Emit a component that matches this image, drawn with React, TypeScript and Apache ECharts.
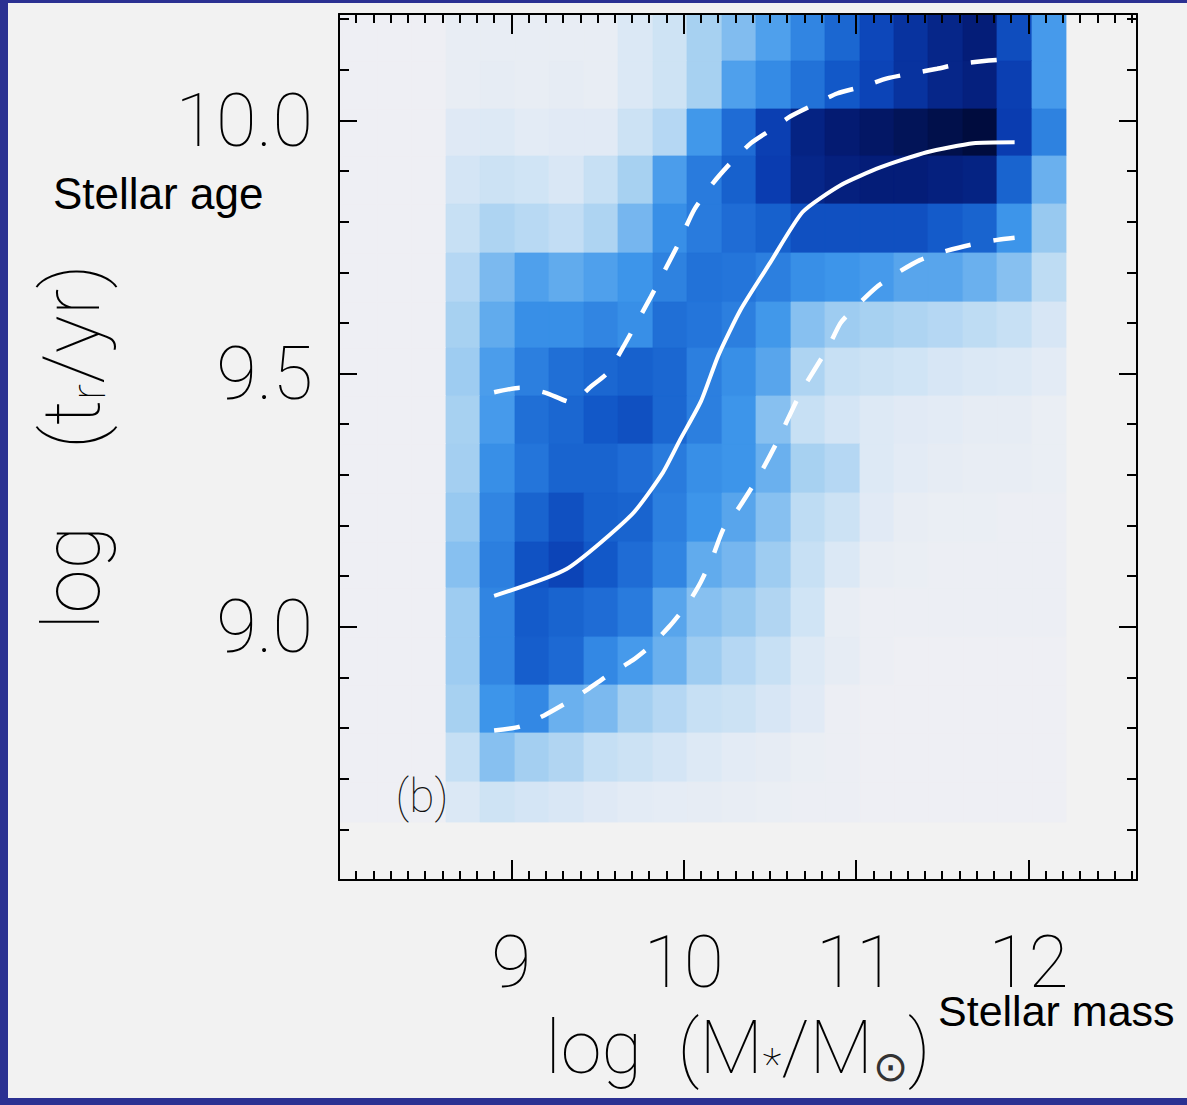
import React, { useEffect, useRef } from 'react';
import * as echarts from 'echarts';

// ---------- axis ranges ----------
const X_MIN = 8.0;
const X_MAX = 12.63;
const Y_MIN = 8.5;
const Y_MAX = 10.21;

// ---------- heat-map bins ----------
// bin centres in log(M*/Msun), bin width 0.2
const xBinCenters = [7.92, 8.12, 8.32, 8.52, 8.72, 8.92, 9.12, 9.32, 9.52, 9.72, 9.92, 10.12, 10.32, 10.52, 10.72, 10.92, 11.12, 11.32, 11.52, 11.72, 11.92, 12.12];
const xBinWidth = 0.2;
// bin edges in log(t_r/yr), bottom to top
const yBinEdges = [8.615, 8.694, 8.791, 8.885, 8.98, 9.077, 9.168, 9.265, 9.36, 9.455, 9.551, 9.642, 9.739, 9.834, 9.929, 10.022, 10.117, 10.211];

// relative density (0-100), rows listed from the TOP row down to the bottom row
const densityRows = [
  [0, 0, 0, 0, 3, 3, 3, 3, 3, 10, 16, 29, 36, 46, 55, 65, 76, 83, 87, 90, 74, 48],
  [0, 0, 0, 0, 3, 4, 3, 4, 3, 10, 16, 29, 46, 53, 61, 70, 77, 83, 87, 89, 79, 48],
  [0, 0, 0, 0, 8, 9, 6, 7, 7, 17, 25, 49, 63, 79, 88, 91, 93, 95, 97, 99, 80, 56],
  [0, 0, 0, 0, 13, 17, 15, 11, 19, 29, 47, 58, 67, 80, 87, 89, 90, 90, 89, 88, 66, 40],
  [0, 0, 0, 0, 19, 27, 24, 21, 27, 38, 52, 58, 63, 67, 73, 73, 73, 73, 69, 66, 50, 32],
  [0, 0, 0, 0, 25, 37, 46, 42, 46, 50, 56, 61, 60, 57, 52, 50, 48, 44, 44, 40, 35, 22],
  [0, 0, 0, 0, 29, 42, 52, 52, 55, 52, 62, 60, 57, 49, 35, 31, 29, 27, 25, 22, 19, 12],
  [0, 0, 0, 0, 31, 47, 57, 62, 65, 67, 65, 57, 52, 44, 27, 19, 17, 15, 12, 10, 9, 6],
  [0, 0, 0, 0, 29, 48, 62, 65, 70, 73, 65, 57, 50, 35, 19, 13, 9, 7, 6, 4, 4, 2],
  [0, 0, 0, 0, 30, 52, 60, 66, 66, 63, 58, 52, 50, 40, 29, 25, 9, 6, 4, 3, 3, 2],
  [0, 0, 0, 0, 32, 55, 66, 73, 67, 66, 57, 50, 44, 35, 22, 17, 7, 3, 2, 2, 1, 1],
  [0, 0, 0, 0, 35, 57, 72, 77, 70, 63, 55, 42, 38, 31, 19, 10, 3, 2, 1, 1, 1, 1],
  [0, 0, 0, 0, 31, 55, 69, 66, 63, 58, 44, 35, 32, 26, 15, 3, 1, 1, 1, 1, 1, 1],
  [0, 0, 0, 0, 31, 55, 68, 64, 54, 48, 40, 31, 25, 19, 9, 4, 1, 0, 0, 0, 0, 0],
  [0, 0, 0, 0, 29, 50, 54, 40, 37, 30, 25, 19, 17, 12, 7, 1, 0, 0, 0, 0, 0, 0],
  [0, 0, 0, 0, 20, 35, 30, 26, 20, 17, 13, 9, 6, 4, 2, 1, 0, 0, 0, 0, 0, 0],
  [0, 0, 0, 0, 10, 16, 13, 11, 8, 6, 5, 4, 3, 2, 1, 1, 0, 0, 0, 0, 0, 0],
];

// colour ramp, evenly spaced from 0 to 100
const densityColors = ['#eeeff4', '#dbe8f5', '#c5dff4', '#a4cff1', '#6ab0ee', '#3d95ea', '#2475da', '#1258c8', '#0a3cb0', '#041d78', '#000a38'];

// ---------- median and percentile curves ----------
const medianMass = [8.9, 9.32, 9.7, 9.88, 9.98, 10.1, 10.2, 10.33, 10.5, 10.69, 10.91, 11.14, 11.41, 11.68, 11.92];
const medianAge = [9.061, 9.114, 9.222, 9.305, 9.37, 9.445, 9.535, 9.626, 9.718, 9.819, 9.872, 9.907, 9.937, 9.955, 9.957];

const upperMass = [8.9, 9.05, 9.2, 9.35, 9.46, 9.56, 9.65, 9.81, 9.96, 10.06, 10.17, 10.27, 10.39, 10.5, 10.62, 10.75, 10.89, 11.04, 11.18, 11.33, 11.47, 11.61, 11.77, 11.92];
const upperAge = [9.463, 9.472, 9.462, 9.443, 9.474, 9.502, 9.553, 9.652, 9.75, 9.823, 9.876, 9.915, 9.955, 9.98, 10.008, 10.03, 10.053, 10.067, 10.083, 10.093, 10.102, 10.112, 10.118, 10.122];

const lowerMass = [8.9, 9.05, 9.19, 9.33, 9.45, 9.56, 9.7, 9.81, 9.92, 10.03, 10.1, 10.17, 10.23, 10.32, 10.44, 10.54, 10.68, 10.84, 10.91, 11.01, 11.12, 11.24, 11.37, 11.5, 11.66, 11.82, 11.92];
const lowerAge = [8.795, 8.803, 8.825, 8.852, 8.878, 8.904, 8.933, 8.963, 9.002, 9.049, 9.089, 9.14, 9.193, 9.235, 9.3, 9.364, 9.463, 9.553, 9.6, 9.636, 9.671, 9.699, 9.724, 9.74, 9.754, 9.764, 9.768];

const xAxisTitle = '{a|log  (M}{s|*}{a|/M}{o|⊙}{a|)}';
const yAxisTitle = '{a|log    (t}{s|r}{a|/yr)}';
const panelLabel = '(b)';
const ageNote = 'Stellar age';
const massNote = 'Stellar mass';

const THIN_FONT = 'Roboto';
const THIN_WEIGHT = 100;
const TEXT_GREY = '#000';
const zip = (a: number[], b: number[]) => a.map((v, i) => [v, b[i]]);

export default function App() {
  const ref = useRef<HTMLDivElement>(null);

  useEffect(() => {
    if (!ref.current) return;
    const chart = echarts.init(ref.current, undefined, { renderer: 'svg' });

    const nRows = densityRows.length;
    const cells: number[][] = [];
    densityRows.forEach((row, ri) => {
      const lo = yBinEdges[nRows - 1 - ri];
      const hi = yBinEdges[nRows - ri];
      row.forEach((v, ci) => {
        const xc = xBinCenters[ci];
        cells.push([xc - xBinWidth / 2, xc + xBinWidth / 2, lo, hi, v]);
      });
    });

    const lineCommon = { color: '#000', width: 2 };
    const mkX = (pos: string, interval: number, len: number, main: boolean) => ({
      type: 'value',
      position: pos,
      min: X_MIN,
      max: X_MAX,
      interval,
      z: 10,
      axisLine: { show: main, onZero: false, lineStyle: lineCommon },
      axisTick: { show: true, inside: true, length: len, lineStyle: lineCommon },
      axisLabel: main && pos === 'bottom'
        ? {
            show: true,
            margin: 54,
            fontSize: 73,
            lineHeight: 56,
            fontFamily: THIN_FONT,
            fontWeight: THIN_WEIGHT,
            color: TEXT_GREY,
            showMinLabel: false,
            showMaxLabel: false,
          }
        : { show: false },
      splitLine: { show: false },
      ...(main && pos === 'bottom'
        ? {
            name: xAxisTitle,
            nameLocation: 'middle',
            nameGap: 127,
            nameTextStyle: {
              rich: {
                a: { fontSize: 74, fontFamily: THIN_FONT, fontWeight: THIN_WEIGHT, color: TEXT_GREY, lineHeight: 80 },
                s: { fontSize: 44, fontFamily: THIN_FONT, fontWeight: THIN_WEIGHT, color: TEXT_GREY, lineHeight: 30, verticalAlign: 'bottom' },
                o: { fontSize: 42, fontFamily: 'DejaVu Sans', fontWeight: 200, color: '#333', lineHeight: 50, verticalAlign: 'bottom' },
              },
            },
          }
        : {}),
    });
    const mkY = (pos: string, interval: number, len: number, main: boolean) => ({
      type: 'value',
      position: pos,
      min: Y_MIN,
      max: Y_MAX,
      interval,
      z: 10,
      axisLine: { show: main, onZero: false, lineStyle: lineCommon },
      axisTick: { show: true, inside: true, length: len, lineStyle: lineCommon },
      axisLabel: main && pos === 'left'
        ? {
            show: true,
            margin: 26,
            fontSize: 74,
            fontFamily: THIN_FONT,
            fontWeight: THIN_WEIGHT,
            color: TEXT_GREY,
            showMinLabel: false,
            showMaxLabel: false,
            formatter: (v: number) => v.toFixed(1),
          }
        : { show: false },
      splitLine: { show: false },
      ...(main && pos === 'left'
        ? {
            name: yAxisTitle,
            nameLocation: 'middle',
            nameRotate: 90,
            nameGap: 227,
            nameTextStyle: {
              rich: {
                a: { fontSize: 80, fontFamily: THIN_FONT, fontWeight: THIN_WEIGHT, color: TEXT_GREY, lineHeight: 80 },
                s: { fontSize: 48, fontFamily: THIN_FONT, fontWeight: THIN_WEIGHT, color: TEXT_GREY, lineHeight: 30, verticalAlign: 'bottom' },
              },
            },
          }
        : {}),
    });

    const option: any = {
      animation: false,
      backgroundColor: '#f2f2f2',
      grid: { left: 339, right: 50, top: 14, bottom: 225, containLabel: false },
      xAxis: [
        mkX('bottom', 1, 20, true),
        mkX('bottom', 0.1, 9, false),
        mkX('top', 1, 20, true),
        mkX('top', 0.1, 9, false),
      ],
      yAxis: [
        mkY('left', 0.5, 18, true),
        mkY('left', 0.1, 10, false),
        mkY('right', 0.5, 18, true),
        mkY('right', 0.1, 10, false),
      ],
      visualMap: {
        type: 'continuous',
        show: false,
        seriesIndex: 0,
        dimension: 4,
        min: 0,
        max: 100,
        inRange: { color: densityColors },
      },
      series: [
        {
          type: 'custom',
          xAxisIndex: 0,
          yAxisIndex: 0,
          clip: true,
          z: 1,
          silent: true,
          dimensions: ['x0', 'x1', 'y0', 'y1', 'v'],
          encode: { x: [0, 1], y: [2, 3] },
          data: cells,
          renderItem: (_params: any, api: any) => {
            const p0 = api.coord([api.value(0), api.value(3)]);
            const p1 = api.coord([api.value(1), api.value(2)]);
            const x = Math.round(p0[0]);
            const y = Math.round(p0[1]);
            const w = Math.round(p1[0]) - x;
            const h = Math.round(p1[1]) - y;
            const c = api.visual('color');
            return {
              type: 'rect',
              shape: { x, y, width: w, height: h },
              style: { fill: c, stroke: c, lineWidth: 0.8 },
            };
          },
        },
        {
          type: 'line',
          name: 'median',
          xAxisIndex: 0,
          yAxisIndex: 0,
          data: zip(medianMass, medianAge),
          symbol: 'none',
          smooth: 0.2,
          z: 5,
          silent: true,
          lineStyle: { color: '#ffffff', width: 4 },
        },
        {
          type: 'line',
          name: 'upper',
          xAxisIndex: 0,
          yAxisIndex: 0,
          data: zip(upperMass, upperAge),
          symbol: 'none',
          smooth: 0.2,
          z: 5,
          silent: true,
          lineStyle: { color: '#ffffff', width: 4.5, type: [26, 23] },
        },
        {
          type: 'line',
          name: 'lower',
          xAxisIndex: 0,
          yAxisIndex: 0,
          data: zip(lowerMass, lowerAge),
          symbol: 'none',
          smooth: 0.2,
          z: 5,
          silent: true,
          lineStyle: { color: '#ffffff', width: 4.5, type: [26, 23] },
        },
      ],
      graphic: [
        { type: 'rect', left: 0, top: 0, shape: { width: 8, height: 1105 }, style: { fill: '#2b3192' }, z: 100 },
        { type: 'rect', left: 0, top: 0, shape: { width: 1187, height: 3 }, style: { fill: '#2b3192' }, z: 100 },
        { type: 'rect', left: 0, top: 1098, shape: { width: 1187, height: 7 }, style: { fill: '#2b3192' }, z: 100 },
        {
          type: 'text',
          x: 53,
          y: 193,
          z: 100,
          style: {
            text: ageNote,
            fontSize: 44,
            fontFamily: 'Liberation Sans',
            fill: '#000',
            textAlign: 'left',
            textVerticalAlign: 'middle',
          },
        },
        {
          type: 'text',
          x: 938,
          y: 1011,
          z: 100,
          style: {
            text: massNote,
            fontSize: 43,
            lineHeight: 34,
            fontFamily: 'Liberation Sans',
            fill: '#000',
            textAlign: 'left',
            textVerticalAlign: 'middle',
          },
        },
        {
          type: 'text',
          x: 422,
          y: 796,
          z: 100,
          style: {
            text: panelLabel,
            fontSize: 46,
            fontFamily: THIN_FONT,
            fontWeight: THIN_WEIGHT,
            fill: '#111',
            textAlign: 'center',
            textVerticalAlign: 'middle',
          },
        },
      ],
    };

    chart.setOption(option);
    return () => chart.dispose();
  }, []);

  return (
    <div
      ref={ref}
      style={{ position: 'absolute', left: 0, top: 0, width: 1187, height: 1105 }}
    />
  );
}
